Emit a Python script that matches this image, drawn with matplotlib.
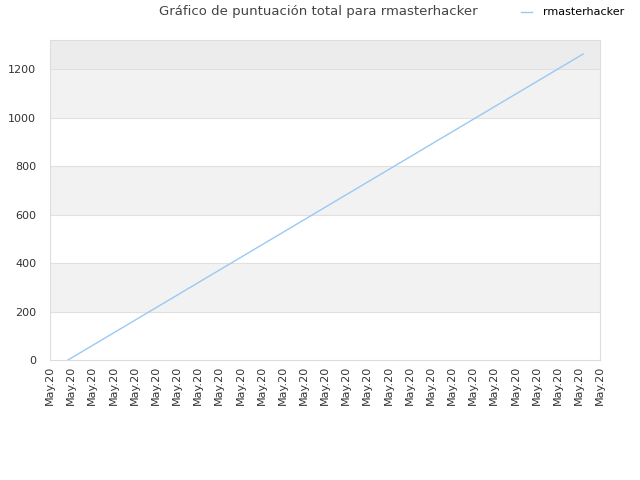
import numpy as np
import matplotlib.pyplot as plt

# data
tick_labels = ["May.20"] * 27
score_x = [0.85, 25.2]
score_y = [0, 1262]
series_name = "rmasterhacker"

fig = plt.figure(figsize=(6.4, 4.8), dpi=100)
ax = fig.add_axes([50 / 640, 1 - 360 / 480, 550 / 640, 320 / 480])

# alternating bands
for lo, hi in [(200, 400), (600, 800), (1000, 1200)]:
    ax.axhspan(lo, hi, color="#f2f2f2", zorder=0, lw=0)
ax.axhspan(1200, 1320, color="#ececec", zorder=0, lw=0)
for y in range(200, 1400, 200):
    ax.axhline(y, color="#e0e0e0", lw=0.8, zorder=1)

ax.plot(score_x, score_y, color="#99c9f5", lw=1, zorder=3, label=series_name)

ax.set_xlim(0, 26)
ax.set_ylim(0, 1320)
ax.set_xticks(np.arange(27))
ax.set_xticklabels(tick_labels, rotation=90, fontsize=8, color="#333333")
ax.set_yticks(range(0, 1400, 200))
ax.tick_params(axis="y", labelsize=8, colors="#333333", length=0, pad=10)
ax.tick_params(axis="x", length=0, pad=4)
for s in ax.spines.values():
    s.set_color("#dddddd")

fig.text(0.497, 0.975, "Gráfico de puntuación total para rmasterhacker",
         ha="center", va="center", fontsize=9.5, color="#444444")
ax.legend(loc="upper right", bbox_to_anchor=(1.062, 1.133), frameon=False,
          fontsize=8, handlelength=1.0, handletextpad=1.0)

fig.savefig("out.png", dpi=100)
